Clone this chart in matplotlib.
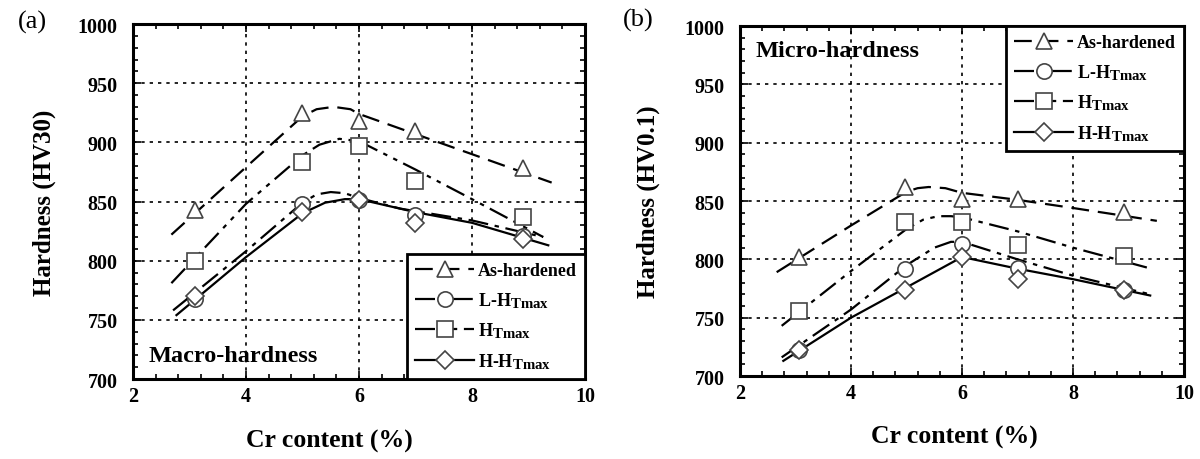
import matplotlib
matplotlib.use("Agg")
import matplotlib.pyplot as plt
from matplotlib.lines import Line2D
from matplotlib.ticker import MultipleLocator

try:
    # subscripts in the original are close to full size
    import matplotlib._mathtext as _mt
    _mt.SHRINK_FACTOR = 0.82
except Exception:
    pass

plt.rcParams['font.family'] = ['Liberation Serif', 'DejaVu Serif']
plt.rcParams['font.weight'] = 'bold'
plt.rcParams['mathtext.fontset'] = 'custom'
plt.rcParams['mathtext.rm'] = 'Liberation Serif:bold'
plt.rcParams['mathtext.bf'] = 'Liberation Serif:bold'
plt.rcParams['mathtext.it'] = 'Liberation Serif:bold:italic'

labels = ['As-hardened', r'L-H$_{\rm Tmax}$', r'H$_{\rm Tmax}$', r'H-H$_{\rm Tmax}$']

# measured points, Cr content (%)
cr_a = [3.1, 5, 6, 7, 8.9]
a_as = [843, 925, 918, 910, 878]
a_l = [768, 848, 851, 839, 821]
a_ht = [800, 883, 897, 867, 837]
a_h = [770, 841, 851, 832, 818]

cr_b = [3.07, 4.98, 6, 7, 8.92]
b_as = [802, 862, 852, 852, 841]
b_l = [722, 792, 813, 793, 774]
b_ht = [756, 832, 832, 812, 803]
b_h = [722, 774, 802, 783, 774]

# trend curves
a_as_fx = [2.68, 4, 5, 5.25, 5.55, 5.85, 6, 7, 8, 9.41]
a_as_fy = [822, 879, 922, 928, 930, 928, 924, 907, 890, 866]
a_l_fx = [2.71, 4, 5, 5.25, 5.5, 5.75, 6, 6.73, 8, 9.26]
a_l_fy = [758, 808, 849, 856, 858, 857, 853, 844, 834, 820]
a_ht_fx = [2.68, 4, 5, 5.3, 5.65, 6, 7, 8, 9.26]
a_ht_fy = [781, 848, 889, 898, 903, 901, 877, 852, 820]
a_h_fx = [2.77, 4, 5, 5.4, 5.75, 6, 7, 8, 9.35]
a_h_fy = [754, 803, 840, 849, 852, 852, 841, 832, 813]

b_as_fx = [2.66, 4, 5, 5.2, 5.4, 5.7, 6, 7, 8, 9.51]
b_as_fy = [789, 829, 858, 861, 862, 861, 857, 851, 844, 833]
b_l_fx = [2.75, 4, 5, 5.5, 5.8, 6, 7, 8, 9.39]
b_l_fy = [716, 757, 795, 810, 815, 815, 800, 786, 770]
b_ht_fx = [2.75, 4, 5, 5.3, 5.57, 5.8, 6, 7, 8, 9.33]
b_ht_fy = [743, 790, 826, 834, 837, 837, 836, 824, 810, 793]
b_h_fx = [2.78, 4, 5, 6, 7, 8, 9.39]
b_h_fy = [713, 750, 776, 802, 792, 783, 769]

styles = [
    ((0, (8, 4)), '^', 11),
    ((0, (9, 3, 2, 3)), 'o', 11),
    ((0, (9, 3, 2, 3, 2, 3)), 's', 12),
    ('-', 'D', 9),
]
mec = '#444444'


def panel(ax, cr, pts, fits, ylab, legloc, xlab_x, ylab_x):
    for (ls, mk, ms), y, (fx, fy) in zip(styles, pts, fits):
        ax.plot(fx, fy, color='k', ls=ls, lw=1.6, zorder=3)
        ax.plot(cr, y, ls='none', marker=mk, ms=ms, mfc='white', mec=mec,
                mew=1.2, zorder=4)
    ax.set_xlim(2, 10)
    ax.set_ylim(700, 1000)
    ax.xaxis.set_major_locator(MultipleLocator(2))
    ax.xaxis.set_minor_locator(MultipleLocator(0.4))
    ax.yaxis.set_major_locator(MultipleLocator(50))
    ax.yaxis.set_minor_locator(MultipleLocator(10))
    ax.tick_params(which='both', direction='in', top=True, right=True,
                   labelsize=14.5, width=1.2)
    ax.tick_params(which='major', length=6)
    ax.tick_params(which='minor', length=3.5)
    ax.tick_params(axis='y', pad=11)
    ax.tick_params(axis='x', pad=5)
    ax.grid(True, which='major', color='k', ls=(0, (2, 3)), lw=1.2)
    for s in ax.spines.values():
        s.set_linewidth(2.2)
    ax.set_xlabel('Cr content (%)', fontsize=18.5, fontweight='bold')
    ax.xaxis.set_label_coords(xlab_x, -0.14)
    ax.set_ylabel(ylab, fontsize=18, fontweight='bold')
    ax.yaxis.set_label_coords(ylab_x, 0.5)

    handles = [Line2D([], [], color='k', ls=ls, lw=1.6, marker=mk, ms=ms,
                      mfc='white', mec=mec, mew=1.2)
               for ls, mk, ms in styles]
    leg = ax.legend(handles, labels, loc=legloc, borderaxespad=0,
                    handlelength=3.3, handletextpad=0.2, labelspacing=0.6,
                    borderpad=0.45, fancybox=False, edgecolor='k',
                    framealpha=1, prop={'size': 13, 'weight': 'bold'})
    leg.get_frame().set_linewidth(2)
    leg.set_zorder(5)
    return ax


fig = plt.figure(figsize=(12, 4.6), dpi=100)
ax1 = fig.add_axes([0.1108, 0.1739, 0.3767, 0.7717])
ax2 = fig.add_axes([0.6167, 0.1804, 0.37, 0.7609])

panel(ax1, cr_a, [a_as, a_l, a_ht, a_h],
      [(a_as_fx, a_as_fy), (a_l_fx, a_l_fy), (a_ht_fx, a_ht_fy), (a_h_fx, a_h_fy)],
      'Hardness (HV30)', 'lower right', 0.434, -0.17)
ax1.text(0.035, 0.05, 'Macro-hardness', transform=ax1.transAxes,
         fontsize=17.5, fontweight='bold', zorder=6)

panel(ax2, cr_b, [b_as, b_l, b_ht, b_h],
      [(b_as_fx, b_as_fy), (b_l_fx, b_l_fy), (b_ht_fx, b_ht_fy), (b_h_fx, b_h_fy)],
      'Hardness (HV0.1)', 'upper right', 0.482, -0.18)
ax2.text(0.035, 0.93, 'Micro-hardness', transform=ax2.transAxes,
         fontsize=17.5, fontweight='bold', va='center', zorder=6)

fig.text(18 / 1200, 1 - 22 / 460, '(a)', fontsize=19, fontweight='normal', va='center')
fig.text(623 / 1200, 1 - 20 / 460, '(b)', fontsize=19, fontweight='normal', va='center')

fig.savefig('out.png', dpi=100)
